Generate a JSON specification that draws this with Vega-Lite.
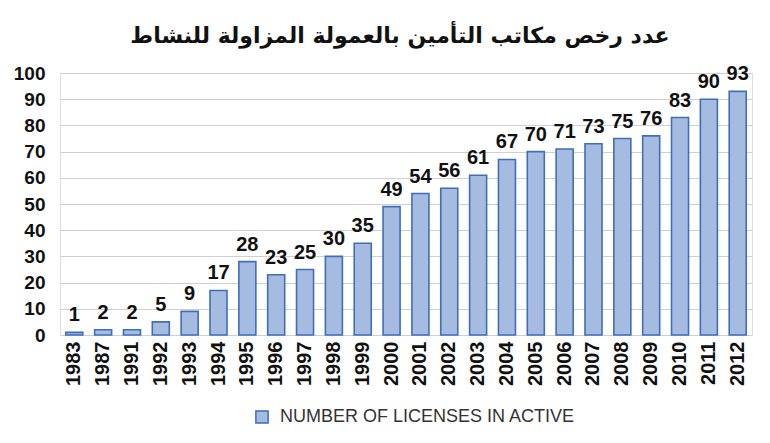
{
  "$schema": "https://vega.github.io/schema/vega-lite/v6.json",
  "autosize": {"type": "none"},
  "width": 692,
  "height": 262,
  "padding": {"left": 60, "top": 73, "right": 18, "bottom": 108},
  "background": "white",
  "title": {
    "text": "عدد رخص مكاتب التأمين بالعمولة المزاولة للنشاط",
    "font": "DejaVu Sans",
    "fontSize": 22,
    "fontWeight": "bold",
    "color": "#111111",
    "anchor": "middle",
    "baseline": "bottom",
    "offset": -6,
    "dx": -6
  },
  "data": {
    "values": [
      {"year": "1983", "licenses": 1, "series": "NUMBER OF LICENSES IN ACTIVE"},
      {"year": "1987", "licenses": 2, "series": "NUMBER OF LICENSES IN ACTIVE"},
      {"year": "1991", "licenses": 2, "series": "NUMBER OF LICENSES IN ACTIVE"},
      {"year": "1992", "licenses": 5, "series": "NUMBER OF LICENSES IN ACTIVE"},
      {"year": "1993", "licenses": 9, "series": "NUMBER OF LICENSES IN ACTIVE"},
      {"year": "1994", "licenses": 17, "series": "NUMBER OF LICENSES IN ACTIVE"},
      {"year": "1995", "licenses": 28, "series": "NUMBER OF LICENSES IN ACTIVE"},
      {"year": "1996", "licenses": 23, "series": "NUMBER OF LICENSES IN ACTIVE"},
      {"year": "1997", "licenses": 25, "series": "NUMBER OF LICENSES IN ACTIVE"},
      {"year": "1998", "licenses": 30, "series": "NUMBER OF LICENSES IN ACTIVE"},
      {"year": "1999", "licenses": 35, "series": "NUMBER OF LICENSES IN ACTIVE"},
      {"year": "2000", "licenses": 49, "series": "NUMBER OF LICENSES IN ACTIVE"},
      {"year": "2001", "licenses": 54, "series": "NUMBER OF LICENSES IN ACTIVE"},
      {"year": "2002", "licenses": 56, "series": "NUMBER OF LICENSES IN ACTIVE"},
      {"year": "2003", "licenses": 61, "series": "NUMBER OF LICENSES IN ACTIVE"},
      {"year": "2004", "licenses": 67, "series": "NUMBER OF LICENSES IN ACTIVE"},
      {"year": "2005", "licenses": 70, "series": "NUMBER OF LICENSES IN ACTIVE"},
      {"year": "2006", "licenses": 71, "series": "NUMBER OF LICENSES IN ACTIVE"},
      {"year": "2007", "licenses": 73, "series": "NUMBER OF LICENSES IN ACTIVE"},
      {"year": "2008", "licenses": 75, "series": "NUMBER OF LICENSES IN ACTIVE"},
      {"year": "2009", "licenses": 76, "series": "NUMBER OF LICENSES IN ACTIVE"},
      {"year": "2010", "licenses": 83, "series": "NUMBER OF LICENSES IN ACTIVE"},
      {"year": "2011", "licenses": 90, "series": "NUMBER OF LICENSES IN ACTIVE"},
      {"year": "2012", "licenses": 93, "series": "NUMBER OF LICENSES IN ACTIVE"}
    ]
  },
  "encoding": {
    "x": {
      "field": "year",
      "type": "ordinal",
      "sort": null,
      "scale": {"paddingInner": 0.41, "paddingOuter": 0.2},
      "axis": {
        "title": null,
        "labelAngle": -90,
        "labelAlign": "right",
        "labelBaseline": "middle",
        "labelFont": "Liberation Sans",
        "labelFontSize": 20,
        "labelFontWeight": "bold",
        "labelColor": "#111111",
        "labelPadding": 6,
        "ticks": false,
        "domain": false
      }
    },
    "y": {
      "field": "licenses",
      "type": "quantitative",
      "scale": {"domain": [0, 100], "nice": false},
      "axis": {
        "title": null,
        "values": [0, 10, 20, 30, 40, 50, 60, 70, 80, 90, 100],
        "labelFont": "Liberation Sans",
        "labelFontSize": 19,
        "labelFontWeight": "bold",
        "labelColor": "#111111",
        "labelPadding": 15,
        "ticks": false,
        "domain": false,
        "gridColor": "#d0d0d0",
        "gridWidth": 1
      }
    }
  },
  "layer": [
    {
      "mark": {"type": "bar", "stroke": "#3f6fba", "strokeWidth": 1.6},
      "encoding": {
        "color": {
          "field": "series",
          "type": "nominal",
          "scale": {"range": ["#a6bbe0"]},
          "legend": {
            "title": null,
            "orient": "none",
            "legendX": 193,
            "legendY": 335,
            "symbolType": "square",
            "symbolSize": 150,
            "symbolStrokeColor": "#3f6fba",
            "symbolStrokeWidth": 1.5,
            "labelFont": "Liberation Sans",
            "labelFontSize": 18,
            "labelLimit": 500,
            "labelColor": "#333333",
            "labelOffset": 9
          }
        }
      }
    },
    {
      "mark": {
        "type": "text",
        "baseline": "alphabetic",
        "dy": -11,
        "font": "Liberation Sans",
        "fontSize": 20,
        "fontWeight": "bold",
        "color": "#111111"
      },
      "encoding": {
        "text": {"field": "licenses", "type": "quantitative"}
      }
    }
  ]
}
